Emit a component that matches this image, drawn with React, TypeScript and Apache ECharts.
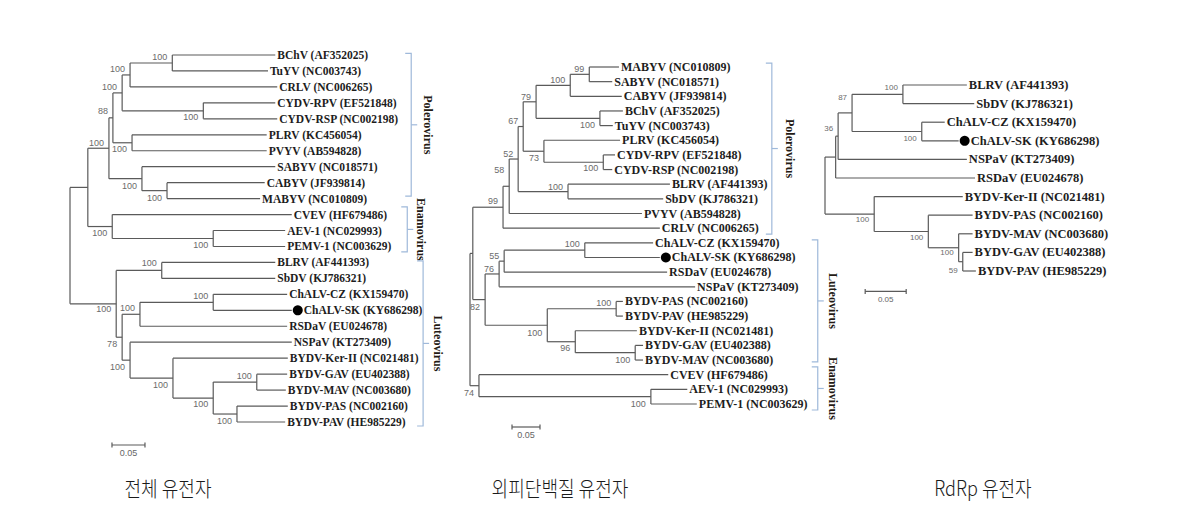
import React, { useEffect, useRef } from "react";
import * as echarts from "echarts";

// ---------- Data: whole genome tree (전체 유전자) ----------
const leftLeaves = [
  "BChV (AF352025)", "TuYV (NC003743)", "CRLV (NC006265)", "CYDV-RPV (EF521848)",
  "CYDV-RSP (NC002198)", "PLRV (KC456054)", "PVYV (AB594828)", "SABYV (NC018571)",
  "CABYV (JF939814)", "MABYV (NC010809)", "CVEV (HF679486)", "AEV-1 (NC029993)",
  "PEMV-1 (NC003629)", "BLRV (AF441393)", "SbDV (KJ786321)", "ChALV-CZ (KX159470)",
  "ChALV-SK (KY686298)", "RSDaV (EU024678)", "NSPaV (KT273409)", "BYDV-Ker-II (NC021481)",
  "BYDV-GAV (EU402388)", "BYDV-MAV (NC003680)", "BYDV-PAS (NC002160)", "BYDV-PAV (HE985229)",
];
const leftTips = [
  0.311, 0.300, 0.314, 0.311, 0.314, 0.298, 0.298, 0.311, 0.295, 0.288, 0.336, 0.326,
  0.326, 0.311, 0.311, 0.329, 0.336, 0.329, 0.336, 0.330, 0.329, 0.327, 0.330, 0.326,
];
// c: children (number = leaf, "nK" = node K), d: depth, bs: bootstrap, dy: label offset (rows)
const leftNodes = [
  { c: [0, 1], d: 0.155, bs: 100, dy: -0.4 },
  { c: ["n0", 2], d: 0.091, bs: 100, dy: -0.4 },
  { c: [3, 4], d: 0.202, bs: 100, dy: 0.4 },
  { c: ["n1", "n2"], d: 0.079, bs: 100, dy: -0.4 },
  { c: [5, 6], d: 0.094, bs: 100, dy: 0.4 },
  { c: ["n3", "n4"], d: 0.065, bs: 88, dy: -0.4 },
  { c: [8, 9], d: 0.147, bs: 100, dy: 0.45 },
  { c: [7, "n6"], d: 0.109, bs: 100, dy: 0.45 },
  { c: ["n5", "n7"], d: 0.059, bs: 100, dy: -0.35 },
  { c: [11, 12], d: 0.217, bs: 100, dy: 0.4 },
  { c: [10, "n9"], d: 0.064, bs: 100, dy: 0.4 },
  { c: ["n8", "n10"], d: 0.027, bs: null, dy: 0 },
  { c: [13, 14], d: 0.139, bs: 100, dy: -0.45 },
  { c: [15, 16], d: 0.217, bs: 100, dy: -0.4 },
  { c: ["n13", 17], d: 0.106, bs: 100, dy: -0.4 },
  { c: [20, 21], d: 0.283, bs: 100, dy: -0.4 },
  { c: [22, 23], d: 0.253, bs: 100, dy: 0.45 },
  { c: ["n15", "n16"], d: 0.217, bs: 100, dy: 0.4 },
  { c: [19, "n17"], d: 0.156, bs: 100, dy: 0.4 },
  { c: [18, "n18"], d: 0.091, bs: 100, dy: 0.4 },
  { c: ["n14", "n19"], d: 0.079, bs: 78, dy: 0.4 },
  { c: ["n12", "n20"], d: 0.07, bs: 100, dy: 0.35 },
  { c: ["n11", "n21"], d: 0, bs: null, dy: 0 },
];
const leftMarked = 16;
const leftClades = [
  { name: "Polerovirus", x: 0.517, r0: -0.1, r1: 8.85, lx: 0.542 },
  { name: "Enamovirus", x: 0.511, r0: 9.52, r1: 12.34, lx: 0.532 },
  { name: "Luteovirus", x: 0.535, r0: 12.9, r1: 23.25, lx: 0.558 },
];
const leftScale = { x: 0.0636, row: 24.44, len: 0.05, label: "0.05" };

// ---------- Data: coat protein tree (외피단백질 유전자) ----------
const midLeaves = [
  "MABYV (NC010809)", "SABYV (NC018571)", "CABYV (JF939814)", "BChV (AF352025)",
  "TuYV (NC003743)", "PLRV (KC456054)", "CYDV-RPV (EF521848)", "CYDV-RSP (NC002198)",
  "BLRV (AF441393)", "SbDV (KJ786321)", "PVYV (AB594828)", "CRLV (NC006265)",
  "ChALV-CZ (KX159470)", "ChALV-SK (KY686298)", "RSDaV (EU024678)", "NSPaV (KT273409)",
  "BYDV-PAS (NC002160)", "BYDV-PAV (HE985229)", "BYDV-Ker-II (NC021481)", "BYDV-GAV (EU402388)",
  "BYDV-MAV (NC003680)", "CVEV (HF679486)", "AEV-1 (NC029993)", "PEMV-1 (NC003629)",
];
const midTips = [
  0.266, 0.254, 0.271, 0.273, 0.255, 0.268, 0.259, 0.254, 0.357, 0.345, 0.307, 0.339,
  0.327, 0.339, 0.352, 0.402, 0.273, 0.273, 0.298, 0.309, 0.309, 0.354, 0.388, 0.405,
];
const midNodes = [
  { c: [0, 1], d: 0.213, bs: 99, dy: -0.38 },
  { c: ["n0", 2], d: 0.179, bs: 100, dy: -0.36 },
  { c: [3, 4], d: 0.232, bs: 100, dy: 0.46 },
  { c: ["n1", "n2"], d: 0.118, bs: 79, dy: -0.33 },
  { c: [6, 7], d: 0.238, bs: 100, dy: 0.4 },
  { c: [5, "n4"], d: 0.132, bs: 73, dy: 0.46 },
  { c: ["n3", "n5"], d: 0.095, bs: 67, dy: -0.38 },
  { c: [8, 9], d: 0.175, bs: 100, dy: -0.3 },
  { c: ["n6", "n7"], d: 0.086, bs: 52, dy: -0.35 },
  { c: ["n8", 10], d: 0.07, bs: 58, dy: -1.1 },
  { c: ["n9", 11], d: 0.059, bs: 99, dy: -0.4 },
  { c: [12, 13], d: 0.205, bs: 100, dy: -0.42 },
  { c: ["n11", 14], d: 0.061, bs: 55, dy: -0.35 },
  { c: ["n12", 15], d: 0.052, bs: 76, dy: -0.33 },
  { c: [16, 17], d: 0.261, bs: 100, dy: -0.4 },
  { c: [19, 20], d: 0.295, bs: 100, dy: 0.5 },
  { c: [18, "n15"], d: 0.188, bs: 96, dy: 0.43 },
  { c: ["n14", "n16"], d: 0.138, bs: 100, dy: 0.53 },
  { c: ["n13", "n17"], d: 0.027, bs: 82, dy: 0.5 },
  { c: [22, 23], d: 0.323, bs: 100, dy: 0.5 },
  { c: [21, "n19"], d: 0.016, bs: 74, dy: 0.5 },
  { c: ["n10", "n18"], d: 0.005, bs: null, dy: 0 },
  { c: ["n21", "n20"], d: 0, bs: null, dy: 0 },
];
const midMarked = 13;
const midClades = [
  { name: "Polerovirus", x: 0.539, r0: -0.27, r1: 11.4, lx: 0.571 },
  { name: "Luteovirus", x: 0.621, r0: 11.8, r1: 20.13, lx: 0.648 },
  { name: "Enamovirus", x: 0.621, r0: 20.47, r1: 23.41, lx: 0.648 },
];
const midScale = { x: 0.075, row: 24.57, len: 0.05, label: "0.05" };

// ---------- Data: RdRp tree (RdRp 유전자) ----------
const rightLeaves = [
  "BLRV (AF441393)", "SbDV (KJ786321)", "ChALV-CZ (KX159470)", "ChALV-SK (KY686298)",
  "NSPaV (KT273409)", "RSDaV (EU024678)", "BYDV-Ker-II (NC021481)", "BYDV-PAS (NC002160)",
  "BYDV-MAV (NC003680)", "BYDV-GAV (EU402388)", "BYDV-PAV (HE985229)",
];
const rightTips = [0.173, 0.182, 0.146, 0.163, 0.173, 0.183, 0.168, 0.18, 0.18, 0.18, 0.184];
const rightNodes = [
  { c: [0, 1], d: 0.095, bs: 100, dy: -0.34 },
  { c: [2, 3], d: 0.118, bs: 100, dy: 0.35 },
  { c: ["n0", "n1"], d: 0.033, bs: 87, dy: -0.85 },
  { c: ["n2", 4], d: 0.016, bs: 36, dy: -0.4 },
  { c: ["n3", 5], d: 0.013, bs: null, dy: 0 },
  { c: [9, 10], d: 0.168, bs: 59, dy: 0.45 },
  { c: [8, "n5"], d: 0.163, bs: 100, dy: 0.28 },
  { c: [7, "n6"], d: 0.126, bs: 100, dy: 0.35 },
  { c: [6, "n7"], d: 0.06, bs: 100, dy: 0.27 },
  { c: ["n4", "n8"], d: 0, bs: null, dy: 0 },
];
const rightMarked = 3;
const rightClades: any[] = [];
const rightScale = { x: 0.049, row: 11.1, len: 0.05, label: "0.05" };

const titles = ["전체 유전자", "외피단백질 유전자", "RdRp 유전자"];

// ---------- helpers ----------
function build(tips: number[], nodes: any[]) {
  const ys: number[] = nodes.map(() => 0);
  const getY = (r: any) => (typeof r === "number" ? r : ys[+r.slice(1)]);
  const getX = (r: any) => (typeof r === "number" ? tips[r] : nodes[+r.slice(1)].d);
  const segs: number[][] = [];
  const boots: number[][] = [];
  nodes.forEach((n, i) => {
    const cy = n.c.map(getY);
    ys[i] = (cy[0] + cy[cy.length - 1]) / 2;
    segs.push([n.d, cy[0], n.d, cy[cy.length - 1]]);
    n.c.forEach((ch: any, k: number) => segs.push([n.d, cy[k], getX(ch), cy[k]]));
    if (n.bs != null) boots.push([n.d, ys[i] + n.dy, n.bs]);
  });
  return { segs, boots };
}

const LINE = "#5a5a5a";
const BRACKET = "#9fb9da";

function txt(x: number, y: number, text: string, font: string, fill: string, align: string, valign = "middle", rotation = 0) {
  return {
    type: "text",
    x,
    y,
    rotation,
    style: { text, font, fill, align, verticalAlign: valign, textAlign: align, textVerticalAlign: valign },
  };
}

function treeSeries(gi: number, leaves: string[], tips: number[], nodes: any[], marked: number,
  clades: any[], scale: any, leafPx: number, bsPx: number) {
  const { segs, boots } = build(tips, nodes);
  const leafFont = `bold ${leafPx}px "Liberation Serif", "Times New Roman", serif`;
  const bsFont = `${bsPx}px "Liberation Sans", Arial, sans-serif`;
  const cladeFont = `bold 12px "Liberation Serif", "Times New Roman", serif`;
  const base = { type: "custom", xAxisIndex: gi, yAxisIndex: gi, silent: true, clip: false, animation: false };
  return [
    {
      ...base,
      data: segs,
      encode: { x: [0, 2], y: [1, 3] },
      renderItem: (_p: any, api: any) => {
        const a = api.coord([api.value(0), api.value(1)]);
        const b = api.coord([api.value(2), api.value(3)]);
        return { type: "line", shape: { x1: a[0], y1: a[1], x2: b[0], y2: b[1] }, style: { stroke: LINE, lineWidth: 1.2 } };
      },
    },
    {
      ...base,
      data: tips.map((t, i) => [t, i]),
      renderItem: (p: any, api: any) => {
        const i = p.dataIndex;
        const c = api.coord([api.value(0), api.value(1)]);
        const children: any[] = [];
        let tx = c[0] + 2;
        if (i === marked) {
          children.push({ type: "circle", shape: { cx: c[0] + 6, cy: c[1], r: 5 }, style: { fill: "#000" } });
          tx = c[0] + 12;
        }
        children.push(txt(tx, c[1], leaves[i], leafFont, "#1d1d1d", "left"));
        return { type: "group", children };
      },
    },
    {
      ...base,
      data: boots,
      renderItem: (p: any, api: any) => {
        const c = api.coord([api.value(0), api.value(1)]);
        return txt(c[0] - 5, c[1], String(boots[p.dataIndex][2]), bsFont, "#6b6b6b", "right");
      },
    },
    {
      ...base,
      data: clades.map((k) => [k.x, k.r0, k.r1, k.lx]),
      encode: { x: [0, 3], y: [1, 2] },
      renderItem: (p: any, api: any) => {
        const k = clades[p.dataIndex];
        const t = api.coord([api.value(0), api.value(1)]);
        const b = api.coord([api.value(0), api.value(2)]);
        const mid = (t[1] + b[1]) / 2;
        const l = api.coord([api.value(3), (api.value(1) + api.value(2)) / 2]);
        return {
          type: "group",
          children: [
            { type: "polyline", shape: { points: [[t[0] - 6, t[1]], [t[0], t[1]], [b[0], b[1]], [b[0] - 6, b[1]]] }, style: { stroke: BRACKET, lineWidth: 1.2, fill: null } },
            { type: "line", shape: { x1: t[0], y1: mid, x2: t[0] + 6, y2: mid }, style: { stroke: BRACKET, lineWidth: 1.2 } },
            txt(l[0], l[1], k.name, cladeFont, "#241a14", "center", "middle", -Math.PI / 2),
          ],
        };
      },
    },
    {
      ...base,
      data: [[scale.x, scale.row, scale.x + scale.len]],
      encode: { x: [0, 2], y: [1] },
      renderItem: (_p: any, api: any) => {
        const a = api.coord([api.value(0), api.value(1)]);
        const b = api.coord([api.value(2), api.value(1)]);
        return {
          type: "group",
          children: [
            { type: "line", shape: { x1: a[0], y1: a[1], x2: b[0], y2: b[1] }, style: { stroke: LINE, lineWidth: 1.2 } },
            { type: "line", shape: { x1: a[0], y1: a[1] - 2.5, x2: a[0], y2: a[1] + 2.5 }, style: { stroke: LINE, lineWidth: 1.2 } },
            { type: "line", shape: { x1: b[0], y1: b[1] - 2.5, x2: b[0], y2: b[1] + 2.5 }, style: { stroke: LINE, lineWidth: 1.2 } },
            txt((a[0] + b[0]) / 2, a[1] + 8, scale.label, bsFont, "#666", "center"),
          ],
        };
      },
    },
  ];
}

export default function App() {
  const ref = useRef<HTMLDivElement>(null);
  useEffect(() => {
    if (!ref.current) return;
    const chart = echarts.init(ref.current, undefined, { renderer: "svg" });
    const grids = [
      { left: 70, top: 55, width: 396, height: 367 },
      { left: 470, top: 67, width: 364, height: 337 },
      { left: 825, top: 85, width: 246, height: 186 },
    ];
    const xMax = [0.6, 0.65, 0.3];
    const yMax = [23, 23, 10];
    const option: any = {
      animation: false,
      backgroundColor: "#ffffff",
      grid: grids,
      xAxis: grids.map((_, i) => ({ type: "value", gridIndex: i, min: 0, max: xMax[i], show: false })),
      yAxis: grids.map((_, i) => ({ type: "value", gridIndex: i, min: 0, max: yMax[i], inverse: true, show: false })),
      series: [
        ...treeSeries(0, leftLeaves, leftTips, leftNodes, leftMarked, leftClades, leftScale, 11.5, 9),
        ...treeSeries(1, midLeaves, midTips, midNodes, midMarked, midClades, midScale, 12, 9),
        ...treeSeries(2, rightLeaves, rightTips, rightNodes, rightMarked, rightClades, rightScale, 12.5, 8),
      ],
      graphic: [
        { x: 168, t: titles[0] },
        { x: 560, t: titles[1] },
        { x: 983, t: titles[2] },
      ].map((g) => ({
        type: "text",
        x: g.x,
        y: 487,
        scaleX: 0.86,
        style: {
          text: g.t,
          font: `300 21px "Noto Sans CJK KR", sans-serif`,
          fill: "#1a1a1a",
          textAlign: "center",
          textVerticalAlign: "middle",
          align: "center",
          verticalAlign: "middle",
        },
      })),
    };
    chart.setOption(option);
    return () => chart.dispose();
  }, []);
  return (
    <div
      ref={ref}
      style={{ position: "fixed", left: 0, top: 0, width: 1199, height: 516, background: "#fff" }}
    />
  );
}
